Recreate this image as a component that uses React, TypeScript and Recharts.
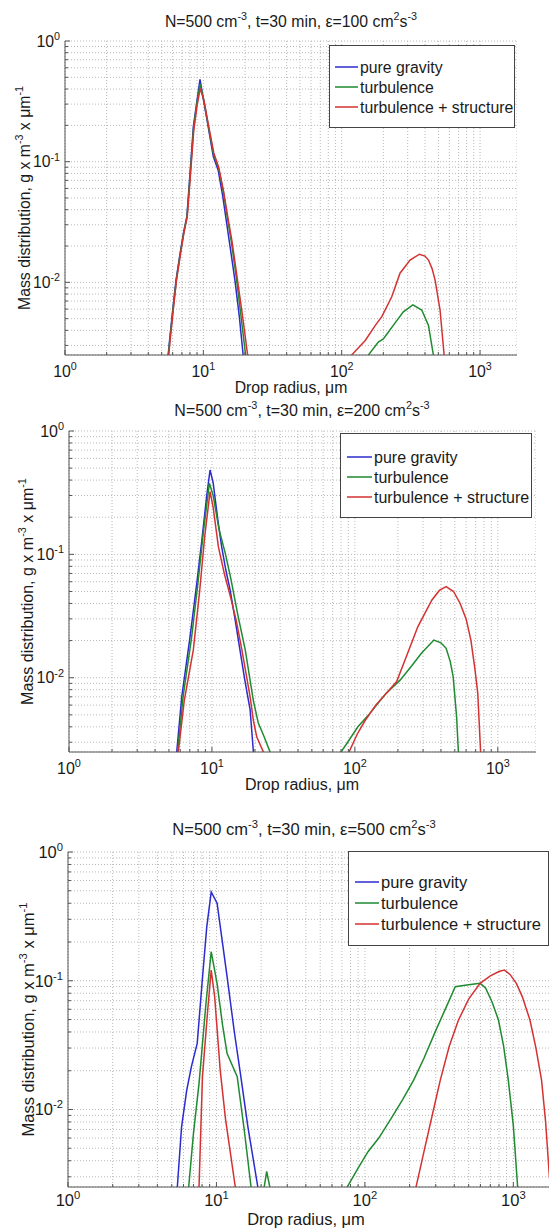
import React from 'react'
import { LineChart, Line, XAxis, YAxis, CartesianGrid } from 'recharts'

type Pt = [number, number | null]

// gap marker: breaks a line between the small-drop and large-drop modes
const GAP: Pt = [40, null]

const seriesNames = ['pure gravity', 'turbulence', 'turbulence + structure']
const seriesColors = ['#2b2bcf', '#1f8a30', '#d43232']
const epsValues = ['100', '200', '500']

// eps = 100
const p1GravitySmall: Pt[] = [
  [5.3, 0.0014], [5.7, 0.0033], [6.0, 0.0058], [6.35, 0.0105], [6.8, 0.0175], [7.2, 0.026], [7.6, 0.035],
  [8.0, 0.078], [8.47, 0.195], [9.0, 0.32], [9.46, 0.48], [10.0, 0.33], [10.8, 0.2], [11.8, 0.11],
  [12.8, 0.085], [13.8, 0.052], [14.8, 0.03], [15.6, 0.0198], [16.9, 0.0105], [18.2, 0.0052], [19.4, 0.0025], [20.2, 0.0015],
]
const p1TurbSmall: Pt[] = [
  [5.32, 0.0014], [5.72, 0.0033], [6.02, 0.0058], [6.38, 0.0105], [6.82, 0.0175], [7.22, 0.026], [7.62, 0.035],
  [8.02, 0.076], [8.5, 0.19], [9.0, 0.31], [9.48, 0.44], [10.05, 0.33], [10.85, 0.2], [11.85, 0.115],
  [12.9, 0.088], [14.0, 0.055], [15.0, 0.033], [16.0, 0.021], [17.3, 0.011], [18.7, 0.0053], [20.2, 0.0025], [21.0, 0.0015],
]
const p1TurbLarge: Pt[] = [
  [150, 0.0018], [156, 0.0025], [184, 0.0032], [200, 0.0034], [215, 0.0038], [236, 0.0044], [279, 0.0057],
  [327, 0.0065], [379, 0.0059], [424, 0.0044], [460, 0.0025], [470, 0.0018],
]
const p1StructSmall: Pt[] = [
  [5.35, 0.0014], [5.75, 0.0033], [6.05, 0.0058], [6.4, 0.0105], [6.85, 0.0175], [7.25, 0.026], [7.65, 0.035],
  [8.05, 0.075], [8.52, 0.18], [9.0, 0.29], [9.5, 0.405], [10.1, 0.32], [10.9, 0.2], [11.9, 0.118],
  [12.9, 0.09], [14.0, 0.057], [15.0, 0.035], [16.1, 0.022], [17.5, 0.0112], [19.1, 0.0055], [20.9, 0.0025], [21.8, 0.0015],
]
const p1StructLarge: Pt[] = [
  [112, 0.0018], [118, 0.0025], [148, 0.0033], [175, 0.0044], [195, 0.0052], [230, 0.0076], [264, 0.0119],
  [312, 0.0153], [365, 0.0171], [400, 0.0165], [424, 0.0153], [450, 0.013], [473, 0.0105], [514, 0.0059],
  [550, 0.0025], [560, 0.0018],
]

// eps = 200
const p2GravitySmall: Pt[] = [
  [5.5, 0.0015], [5.67, 0.0025], [6.15, 0.007], [7.03, 0.0215], [7.83, 0.058], [8.5, 0.13], [9.2, 0.3],
  [9.7, 0.483], [10.2, 0.38], [11.0, 0.19], [11.7, 0.115], [12.5, 0.075], [13.4, 0.0515], [14.5, 0.03],
  [15.7, 0.0168], [17.0, 0.0095], [18.5, 0.0055], [19.5, 0.0025], [20.0, 0.0015],
]
const p2TurbSmall: Pt[] = [
  [5.55, 0.0015], [5.75, 0.0025], [6.3, 0.0072], [7.2, 0.021], [8.0, 0.06], [8.7, 0.15], [9.6, 0.377],
  [10.2, 0.3], [11.2, 0.16], [12.4, 0.102], [13.5, 0.065], [15.2, 0.032], [17.1, 0.0168], [19.5, 0.0065],
  [21.1, 0.0043], [23.0, 0.0034], [25.5, 0.0025], [26.5, 0.0018],
]
const p2TurbLarge: Pt[] = [
  [76, 0.0018], [80, 0.0025], [89, 0.003], [105, 0.004], [125, 0.005], [145, 0.0062], [166, 0.0075],
  [208, 0.0096], [250, 0.0125], [292, 0.0158], [357, 0.0202], [400, 0.0192], [435, 0.0173], [465, 0.0135],
  [487, 0.0102], [515, 0.0048], [530, 0.0025], [540, 0.0018],
]
const p2StructSmall: Pt[] = [
  [5.65, 0.0015], [5.82, 0.0025], [6.4, 0.0065], [7.41, 0.0168], [8.2, 0.05], [8.9, 0.14], [9.7, 0.322],
  [10.2, 0.24], [11.1, 0.115], [12.2, 0.07], [13.5, 0.045], [14.8, 0.029], [16.2, 0.0168], [18.5, 0.007],
  [19.5, 0.0045], [20.6, 0.0033], [22.9, 0.0025], [23.8, 0.0018],
]
const p2StructLarge: Pt[] = [
  [87, 0.0018], [91, 0.0025], [104, 0.0035], [118, 0.0045], [140, 0.006], [166, 0.0075], [196, 0.0093],
  [230, 0.015], [276, 0.026], [346, 0.0427], [390, 0.051], [435, 0.0547], [490, 0.05], [545, 0.04],
  [600, 0.03], [648, 0.0202], [690, 0.012], [724, 0.0075], [758, 0.0025], [770, 0.0018],
]

// eps = 500
const p3GravitySmall: Pt[] = [
  [5.3, 0.0015], [5.45, 0.0025], [5.82, 0.0073], [6.3, 0.014], [6.78, 0.0215], [7.42, 0.0326], [8.06, 0.107],
  [8.6, 0.26], [9.22, 0.49], [10.1, 0.4], [11.8, 0.107], [13.2, 0.04], [14.6, 0.018], [16.3, 0.0073],
  [19.0, 0.0025], [19.5, 0.0018],
]
const p3TurbSmall: Pt[] = [
  [6.3, 0.0015], [6.5, 0.0025], [7.0, 0.0065], [7.63, 0.0159], [8.5, 0.0667], [9.22, 0.168], [10.1, 0.095],
  [11.0, 0.045], [11.8, 0.0272], [13.8, 0.018], [15.4, 0.0069], [17.1, 0.0025], [17.8, 0.0015],
  [20.2, 0.0019], [21.8, 0.0033], [23.8, 0.002],
]
const p3TurbLarge: Pt[] = [
  [74, 0.002], [76, 0.0025], [90, 0.0035], [105, 0.0047], [124, 0.006], [150, 0.0085], [180, 0.012],
  [213, 0.0169], [250, 0.025], [300, 0.041], [350, 0.061], [406, 0.0898], [500, 0.093], [597, 0.0955],
  [650, 0.088], [720, 0.068], [794, 0.0495], [860, 0.031], [925, 0.0169], [1000, 0.0075], [1069, 0.0025], [1090, 0.0015],
]
const p3StructSmall: Pt[] = [
  [7.5, 0.0015], [7.63, 0.0025], [8.05, 0.018], [8.73, 0.059], [9.22, 0.121], [9.73, 0.075], [10.6, 0.0202],
  [11.5, 0.0085], [13.4, 0.0025], [13.8, 0.0018],
]
const p3StructLarge: Pt[] = [
  [215, 0.0018], [221, 0.0025], [250, 0.0047], [290, 0.01], [322, 0.0169], [370, 0.031], [427, 0.0495],
  [500, 0.072], [597, 0.0955], [700, 0.109], [800, 0.118], [871, 0.121], [950, 0.112], [1050, 0.095],
  [1150, 0.075], [1294, 0.0495], [1420, 0.03], [1549, 0.0169], [1650, 0.008], [1750, 0.003], [1800, 0.0022],
]

const xDomain: [number, number] = [1, 1850]
const yDomain: [number, number] = [0.0025, 1]
const xDecades = [1, 10, 100, 1000]
const yDecades = [0.001, 0.01, 0.1, 1]
const mantissas = [1, 2, 3, 4, 5, 6, 7, 8, 9]

const xTicks = xDecades.flatMap((d) => mantissas.map((k) => +(k * d).toPrecision(3))).filter((v) => v <= xDomain[1])
const yTicks = yDecades.flatMap((d) => mantissas.map((k) => +(k * d).toPrecision(3))).filter((v) => v >= yDomain[0] && v <= yDomain[1])

const FONT = '"Liberation Sans", Arial, Helvetica, sans-serif'
const AX = '#555'
const GRID = '#b9b9b9'
const TXT = '#1a1a1a'

const exponent = (v: number) => Math.round(Math.log10(v))
const isMajor = (v: number) => Math.abs(Math.log10(v) - exponent(v)) < 1e-6

type Legend = { x: number; y: number; w: number; h: number; row0: number; rowGap: number; l0: number; l1: number; tx: number }
type Panel = {
  eps: string
  L: number; R: number; T: number; B: number
  fs: number
  titleX: number; titleY: number
  tickDy: number
  xlabelX: number; xlabelY: number
  ylabelX: number
  leg: Legend
  series: Pt[][]
}

const panels: Panel[] = [
  {
    eps: epsValues[0], L: 65, R: 517, T: 41, B: 355, fs: 15.8,
    titleX: 291, titleY: 27, tickDy: 22, xlabelX: 291, xlabelY: 393, ylabelX: 30,
    leg: { x: 329, y: 45, w: 185, h: 82, row0: 67, rowGap: 20, l0: 335, l1: 358, tx: 360 },
    series: [p1GravitySmall, [...p1TurbSmall, GAP, ...p1TurbLarge], [...p1StructSmall, GAP, ...p1StructLarge]],
  },
  {
    eps: epsValues[1], L: 69, R: 536, T: 431, B: 752, fs: 16,
    titleX: 302, titleY: 416, tickDy: 22, xlabelX: 302, xlabelY: 790, ylabelX: 33,
    leg: { x: 340, y: 433, w: 191, h: 84, row0: 457, rowGap: 20, l0: 347, l1: 372, tx: 374 },
    series: [p2GravitySmall, [...p2TurbSmall, GAP, ...p2TurbLarge], [...p2StructSmall, GAP, ...p2StructLarge]],
  },
  {
    eps: epsValues[2], L: 68, R: 553, T: 852, B: 1187, fs: 16.5,
    titleX: 304, titleY: 835, tickDy: 19, xlabelX: 306, xlabelY: 1225, ylabelX: 34,
    leg: { x: 348, y: 851, w: 200, h: 94, row0: 882, rowGap: 21, l0: 355, l1: 379, tx: 381 },
    series: [p3GravitySmall, [...p3TurbSmall, GAP, ...p3TurbLarge], [...p3StructSmall, GAP, ...p3StructLarge]],
  },
]

const toRows = (pts: Pt[]) => pts.map(([r, m]) => ({ r, m }))

function rich(parts: [string, boolean][], fs: number) {
  const rise = fs * 0.42
  let up = false
  return parts.map(([s, sup], i) => {
    let dy = 0
    if (sup && !up) { dy = -rise; up = true }
    else if (!sup && up) { dy = rise; up = false }
    return <tspan key={i} dy={dy} fontSize={sup ? fs * 0.68 : fs}>{s}</tspan>
  })
}

function XTick(props: any) {
  const { x, y, payload, side, p } = props
  const v = payload.value
  const major = isMajor(v)
  const len = major ? 5 : 3
  const dir = side === 'bottom' ? -1 : 1
  return (
    <g>
      <line x1={x} x2={x} y1={y} y2={y + dir * len} stroke={AX} />
      {side === 'bottom' && major && (
        <text x={x} y={y + p.tickDy} textAnchor="middle" fontSize={p.fs} fill={TXT} fontFamily={FONT}>
          {rich([['10', false], [String(exponent(v)), true]], p.fs)}
        </text>
      )}
    </g>
  )
}

function YTick(props: any) {
  const { x, y, payload, side, p } = props
  const v = payload.value
  const major = isMajor(v)
  const len = major ? 5 : 3
  const dir = side === 'left' ? 1 : -1
  return (
    <g>
      <line x1={x} x2={x + dir * len} y1={y} y2={y} stroke={AX} />
      {side === 'left' && major && (
        <text x={x - 5} y={y + p.fs * 0.36} textAnchor="end" fontSize={p.fs} fill={TXT} fontFamily={FONT}>
          {rich([['10', false], [String(exponent(v)), true]], p.fs)}
        </text>
      )}
    </g>
  )
}

function Chart({ p }: { p: Panel }) {
  const mTop = 14
  const axH = 50
  const H = mTop + (p.B - p.T) + axH
  const axisCommon = {
    type: 'number' as const,
    scale: 'log' as const,
    allowDataOverflow: true,
    interval: 0 as const,
    tickSize: 0,
    tickMargin: 0,
    tickLine: false,
    axisLine: { stroke: AX },
  }
  return (
    <div style={{ position: 'absolute', left: 0, top: p.T - mTop }}>
      <LineChart width={p.R} height={H} margin={{ top: mTop, right: 0, bottom: 0, left: 0 }}>
        <CartesianGrid stroke={GRID} strokeDasharray="1 2" />
        <XAxis {...axisCommon} dataKey="r" domain={xDomain} ticks={xTicks} height={axH}
          tick={(t: any) => <XTick {...t} side="bottom" p={p} />} />
        <XAxis {...axisCommon} xAxisId="top" orientation="top" dataKey="r" domain={xDomain} ticks={xTicks} height={0}
          tick={(t: any) => <XTick {...t} side="top" p={p} />} />
        <YAxis {...axisCommon} domain={yDomain} ticks={yTicks} width={p.L}
          tick={(t: any) => <YTick {...t} side="left" p={p} />} />
        <YAxis {...axisCommon} yAxisId="right" orientation="right" domain={yDomain} ticks={yTicks} width={0}
          tick={(t: any) => <YTick {...t} side="right" p={p} />} />
        {p.series.map((s, i) => (
          <Line key={seriesNames[i]} data={toRows(s)} dataKey="m" type="linear" stroke={seriesColors[i]}
            strokeWidth={1.5} dot={false} activeDot={false} connectNulls={false} isAnimationActive={false} />
        ))}
      </LineChart>
    </div>
  )
}

function Labels({ p }: { p: Panel }) {
  const { leg } = p
  const cy = (p.T + p.B) / 2
  return (
    <g fontFamily={FONT} fill={TXT}>
      <text x={p.titleX} y={p.titleY} textAnchor="middle" fontSize={p.fs}>
        {rich([['N=500 cm', false], ['-3', true], [`, t=30 min, \u03b5=${p.eps} cm`, false], ['2', true], ['s', false], ['-3', true]], p.fs)}
      </text>
      <text x={p.xlabelX} y={p.xlabelY} textAnchor="middle" fontSize={p.fs}>Drop radius, μm</text>
      <text x={p.ylabelX} y={cy} textAnchor="middle" fontSize={p.fs} transform={`rotate(-90 ${p.ylabelX} ${cy})`}>
        {rich([['Mass distribution, g x m', false], ['-3', true], [' x μm', false], ['-1', true]], p.fs)}
      </text>
      <rect x={leg.x + 0.5} y={leg.y + 0.5} width={leg.w} height={leg.h} fill="#fff" stroke="#444" />
      {seriesNames.map((name, i) => {
        const ry = leg.row0 + i * leg.rowGap
        return (
          <g key={name}>
            <line x1={leg.l0} x2={leg.l1} y1={ry} y2={ry} stroke={seriesColors[i]} strokeWidth={1.5} />
            <text x={leg.tx} y={ry + p.fs * 0.36} fontSize={p.fs}>{name}</text>
          </g>
        )
      })}
    </g>
  )
}

export default function App() {
  return (
    <div style={{ position: 'absolute', left: 0, top: 0, width: 549, height: 1229, overflow: 'hidden', background: '#fff' }}>
      {panels.map((p) => <Chart key={p.eps} p={p} />)}
      <svg width={549} height={1229} style={{ position: 'absolute', left: 0, top: 0, pointerEvents: 'none' }}>
        {panels.map((p) => <Labels key={p.eps} p={p} />)}
      </svg>
    </div>
  )
}
